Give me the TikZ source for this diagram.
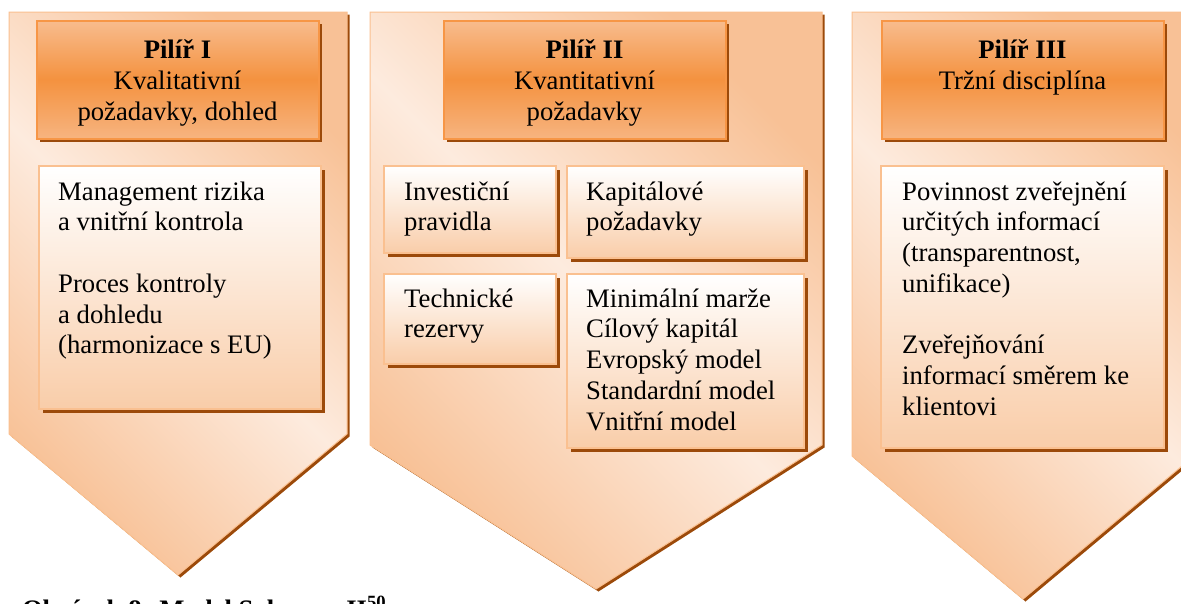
\documentclass[tikz,border=0pt]{standalone}
\usepackage{fontspec}
\setmainfont{Liberation Serif}
\usetikzlibrary{shadows}

\definecolor{pillarDark}{HTML}{F8C196}
\definecolor{pillarLight}{HTML}{FDEBDE}
\definecolor{pillarEdge}{HTML}{FAC090}
\definecolor{shadowBrown}{HTML}{9C4A0A}
\definecolor{hdrTop}{HTML}{F8BC8E}
\definecolor{hdrMid}{HTML}{F4923F}
\definecolor{hdrBot}{HTML}{F7B480}
\definecolor{hdrEdge}{HTML}{F79646}
\definecolor{boxBot}{HTML}{F9CDA9}
\definecolor{boxEdge}{HTML}{FAC090}

% strut that fixes the height of the first line of every text block
\newcommand{\firstline}{\rule{0pt}{26pt}}
% outline of one pillar: left x, right x, end of the sides, tip x, tip y
\newcommand{\pillaroutline}[5]{(#1,12) -- (#2,12) -- (#2,#3) -- (#4,#5) -- (#1,#3) -- cycle}

\tikzset{
  pillar/.style={draw=pillarEdge, line width=1pt,
    top color=pillarDark, bottom color=pillarDark, middle color=pillarLight,
    shading angle=-45},
  pillarshadow/.style={fill=shadowBrown, shift={(2.5,2.5)}},
  boxshadow/.style={drop shadow={shadow xshift=3.5pt, shadow yshift=-3.5pt,
    fill=shadowBrown, opacity=1}},
  hdrbox/.style={draw=hdrEdge, line width=2pt, anchor=north west, inner sep=0pt,
    top color=hdrTop, bottom color=hdrBot, middle color=hdrMid, boxshadow},
  itembox/.style={draw=boxEdge, line width=2pt, anchor=north west, inner sep=0pt,
    top color=white, bottom color=boxBot, boxshadow},
  hdrtext/.style={anchor=north, align=center, inner sep=0pt},
  bodytext/.style={anchor=north west, align=left, inner sep=0pt},
}

\begin{document}
\begin{tikzpicture}[x=1pt, y=-1pt, font=\fontsize{26.7pt}{30.7pt}\selectfont]
\useasboundingbox (0,0) rectangle (1181,603);
\fill[white] (0,0) rectangle (1181,603);

% pillars
\fill[pillarshadow] \pillaroutline{9}{347}{434}{178}{575};
\path[pillar] \pillaroutline{9}{347}{434}{178}{575};
\fill[pillarshadow] \pillaroutline{370}{822}{445}{596}{589};
\path[pillar] \pillaroutline{370}{822}{445}{596}{589};
\fill[pillarshadow] \pillaroutline{852}{1194}{456}{1023}{599};
\path[pillar] \pillaroutline{852}{1194}{456}{1023}{599};

% Pillar I
\node[hdrbox, minimum width=282pt, minimum height=118pt] (h1) at (35.5,19.5) {};
\node[hdrtext] (h1t) at ([shift={(0,13)}]h1.north)
  {\firstline\textbf{Pilíř I}\\Kvalitativní\\požadavky, dohled};
\node[itembox, minimum width=282pt, minimum height=243pt] (b1) at (38,165) {};
\node[bodytext] (b1t) at ([shift={(20,9)}]b1.north west)
  {\firstline Management rizika\\a vnitřní kontrola\\[30.7pt]Proces kontroly\\a dohledu\\(harmonizace s EU)};

% Pillar II
\node[hdrbox, minimum width=282pt, minimum height=118pt] (h2) at (442.5,19.5) {};
\node[hdrtext] (h2t) at ([shift={(0,13)}]h2.north)
  {\firstline\textbf{Pilíř II}\\Kvantitativní\\požadavky};
\node[itembox, minimum width=172pt, minimum height=87pt] (inv) at (383,165) {};
\node[bodytext] (invt) at ([shift={(21,9)}]inv.north west) {\firstline Investiční\\pravidla};
\node[itembox, minimum width=237pt, minimum height=92pt] (kap) at (566,165) {};
\node[bodytext] (kapt) at ([shift={(20,9)}]kap.north west) {\firstline Kapitálové\\požadavky};
\node[itembox, minimum width=172pt, minimum height=90pt] (tech) at (383,273) {};
\node[bodytext] (techt) at ([shift={(21,8)}]tech.north west) {\firstline Technické\\rezervy};
\node[itembox, minimum width=237pt, minimum height=174pt] (mod) at (566,273) {};
\node[bodytext] (modt) at ([shift={(20,8)}]mod.north west)
  {\firstline Minimální marže\\Cílový kapitál\\Evropský model\\Standardní model\\Vnitřní model};

% Pillar III
\node[hdrbox, minimum width=282pt, minimum height=118pt] (h3) at (880.5,19.5) {};
\node[hdrtext] (h3t) at ([shift={(0,13)}]h3.north)
  {\firstline\textbf{Pilíř III}\\Tržní disciplína};
\node[itembox, minimum width=283pt, minimum height=282pt] (b3) at (880,165) {};
\node[bodytext] (b3t) at ([shift={(22,9)}]b3.north west)
  {\firstline Povinnost zveřejnění\\určitých informací\\(transparentnost,\\unifikace)\\[30.7pt]Zveřejňování\\informací směrem ke\\klientovi};

% caption
\node[anchor=base west, inner sep=0pt, font=\fontsize{26.7pt}{30.7pt}\selectfont\bfseries]
  (cap) at (22,618) {Obrázek 8: Model Solvency II\textsuperscript{50}};
\end{tikzpicture}
\end{document}
